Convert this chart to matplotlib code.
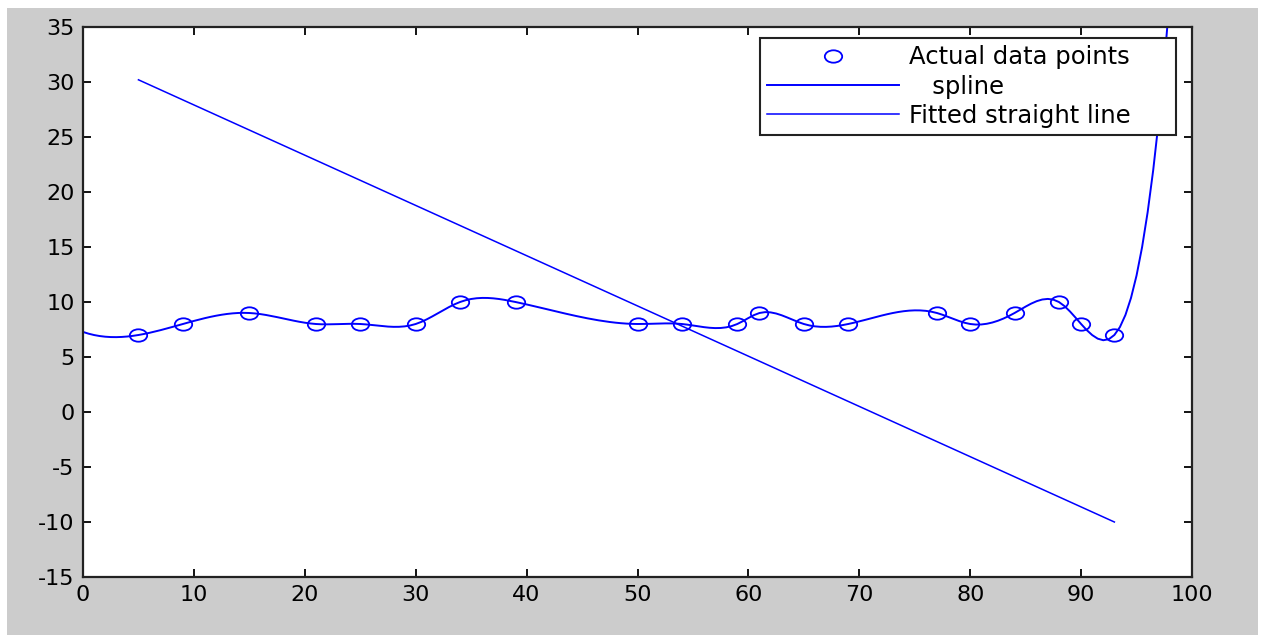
import numpy as np
import matplotlib.pyplot as plt
from matplotlib.path import Path
from matplotlib.patches import Rectangle
from matplotlib.transforms import Affine2D

plt.rcParams['font.family'] = 'DejaVu Sans'
plt.rcParams['axes.unicode_minus'] = False

# measured data
x_data = [5, 9, 15, 21, 25, 30, 34, 39, 50, 54, 59, 61, 65, 69, 77, 80, 84, 88, 90, 93]
y_data = [7, 8, 9, 8, 8, 8, 10, 10, 8, 8, 8, 9, 8, 8, 9, 8, 9, 10, 8, 7]

# end points of the fitted straight line
line_x = [5, 93]
line_y = [30.2, -10]

x_ticks = [0, 10, 20, 30, 40, 50, 60, 70, 80, 90, 100]
y_ticks = [-15, -10, -5, 0, 5, 10, 15, 20, 25, 30, 35]


def not_a_knot_spline(x, y, xx):
    # cubic spline with not-a-knot end conditions (same as matlab's spline)
    x = np.asarray(x, float)
    y = np.asarray(y, float)
    n = len(x)
    h = np.diff(x)
    d = np.diff(y) / h
    A = np.zeros((n, n))
    b = np.zeros(n)
    for i in range(1, n - 1):
        A[i, i - 1] = h[i - 1]
        A[i, i] = 2 * (h[i - 1] + h[i])
        A[i, i + 1] = h[i]
        b[i] = 6 * (d[i] - d[i - 1])
    A[0, 0], A[0, 1], A[0, 2] = -h[1], h[0] + h[1], -h[0]
    A[-1, -3], A[-1, -2], A[-1, -1] = -h[-1], h[-2] + h[-1], -h[-2]
    M = np.linalg.solve(A, b)

    k = np.clip(np.searchsorted(x, xx) - 1, 0, n - 2)
    t = xx - x[k]
    hk = h[k]
    c1 = d[k] - hk * (2 * M[k] + M[k + 1]) / 6
    c2 = M[k] / 2
    c3 = (M[k + 1] - M[k]) / (6 * hk)
    return y[k] + c1 * t + c2 * t ** 2 + c3 * t ** 3


xx = np.linspace(0, 100, 201)
yy = not_a_knot_spline(x_data, y_data, xx)

fig = plt.figure(figsize=(12.66, 6.35), dpi=100, facecolor='white')
fig.patches.append(Rectangle((7 / 1266, 0), 1251 / 1266, 627 / 635,
                             transform=fig.transFigure, facecolor='#cccccc',
                             edgecolor='none', zorder=-10))

ax = fig.add_axes([83 / 1266, 58 / 635, 1109 / 1266, 550 / 635])

# slightly wide ellipse for the data markers
ring = Path.unit_circle().transformed(Affine2D().scale(1.4, 1.0))

ax.plot(x_data, y_data, linestyle='none', marker=ring, markersize=12.5,
        markerfacecolor='none', markeredgecolor='blue', markeredgewidth=1.3,
        label='Actual data points')
ax.plot(xx, yy, color='blue', linewidth=1.4, label='   spline')
ax.plot(line_x, line_y, color='blue', linewidth=1.1, label='Fitted straight line')

ax.set_xlim(0, 100)
ax.set_ylim(-15, 35)
ax.set_xticks(x_ticks)
ax.set_yticks(y_ticks)
ax.tick_params(direction='in', length=6, width=1.3, labelsize=16,
               top=True, right=True, pad=6, colors='black')
for s in ax.spines.values():
    s.set_linewidth(1.6)
    s.set_color('#222222')

# legend box stretched over a fixed width in the top right corner
leg = ax.legend(loc='upper left', mode='expand',
                bbox_to_anchor=(760 / 1266, (635 - 138) / 635, 416 / 1266, 100 / 635),
                bbox_transform=fig.transFigure, fontsize=17.5, fancybox=False,
                framealpha=1, edgecolor='#222222', handlelength=5.4,
                handletextpad=0.45, borderpad=0.3, labelspacing=0.22,
                borderaxespad=0)
leg.get_frame().set_linewidth(1.5)

fig.savefig('out.png', dpi=100, facecolor=fig.get_facecolor())
